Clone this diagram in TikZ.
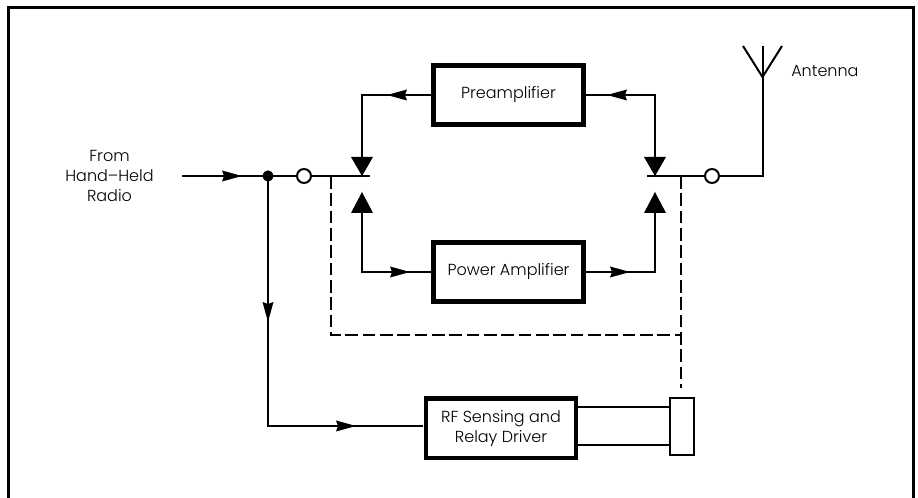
\documentclass[tikz,border=0pt]{standalone}
\usepackage{fontspec}
\setmainfont{Poppins Light}
\usetikzlibrary{arrows.meta,positioning,calc}
\tikzset{
  txt/.style={align=center,font=\fontsize{12pt}{15pt}\selectfont},
  block/.style={txt,draw,line width=3.5pt,minimum width=112.5pt,minimum height=44.5pt,inner sep=0pt},
  wire/.style={line width=1.5pt},
  thinwire/.style={line width=1.1pt},
  ctrl/.style={line width=1.5pt,dash pattern=on 9.5pt off 3.5pt},
  contact/.style={circle,draw,fill=white,line width=1.5pt,inner sep=0pt,minimum size=10.5pt}
}
\begin{document}
\begin{tikzpicture}[x=0.75pt,y=-0.75pt]
  \useasboundingbox (0,0) rectangle (918,498);
  % Frame (runs off the bottom)
  \draw[line width=2.2pt] (8.5,498) -- (8.5,7.5) -- (913.5,7.5) -- (913.5,498);
  % Blocks
  \node[block] (pre) at (508.5,95) {Preamplifier};
  \node[block] (pa) at (508.5,272) {Power Amplifier};
  \node[block] (rf) at (501,428.5) {RF Sensing and\\Relay Driver};
  % Relay coil
  \node[draw,line width=1.5pt,minimum width=18pt,minimum height=43pt,inner sep=0pt] (coil) at (681.5,426.5) {};
  % Labels
  \node[txt] (radio) at (109.5,176) {From\\Hand--Held\\Radio};
  \node[txt,anchor=west,inner sep=0pt] (antlab) at (791,71.5) {Antenna};
  % Contacts
  \node[contact] (cl) at (304,176) {};
  \node[contact] (cr) at (712,176) {};
  % Free ends and corners
  \coordinate (in) at (182,176);
  \coordinate (jn) at (268,176);
  \coordinate (pl) at (362,176);
  \coordinate (pr) at (655,176);
  \coordinate (dl) at (331,176);
  \coordinate (dr) at (681,176);
  \coordinate (ant) at (762.5,176);
  \coordinate (anttop) at (762.5,46);
  \coordinate (antfork) at (762.5,77);
  \coordinate (rfin) at (423,426);
  % Wires
  \draw[wire] (in) -- (cl);
  \draw[wire] (cl) -- (370,176);
  \draw[wire] (647,176) -- (cr);
  \draw[wire] (cr) -- (ant) -- (anttop);
  \draw[wire] (743,46) -- (antfork) -- (782,46);
  \draw[wire] (pre.west) -| (pl);
  \draw[wire] (pre.east) -| (pr);
  \draw[wire] (pa.west) -| (362,210);
  \draw[wire] (pa.east) -| (655,210);
  \draw[wire] (jn) |- (rfin);
  \draw[thinwire] (rf.east |- 0,407) -- (coil.west |- 0,407);
  \draw[thinwire] (rf.east |- 0,445) -- (coil.west |- 0,445);
  \fill (jn) circle (4.2pt);
  % Dashed control lines
  \draw[ctrl] (dl) -- (331,335) -- (681,335);
  \draw[ctrl] (dr) -- (681,388);
  % Large heads at the contacts
  \foreach \x in {362,655} {
    \fill (\x,176) -- (\x-11,157) -- (\x+11,157) -- cycle;
    \fill (\x,192) -- (\x-11,213) -- (\x+11,213) -- cycle;
  }
  % Small heads on the wires
  \foreach \x/\y/\d in {242/176/1,387/95/-1,607/95/-1,410/272/1,630/272/1,356/426/1} {
    \fill (\x,\y) -- (\x-\d*20,\y-5.5) -- (\x-\d*18,\y) -- (\x-\d*20,\y+5.5) -- cycle;
  }
  \fill (268,322) -- (262.5,302) -- (268,304) -- (273.5,302) -- cycle;
\end{tikzpicture}
\end{document}
